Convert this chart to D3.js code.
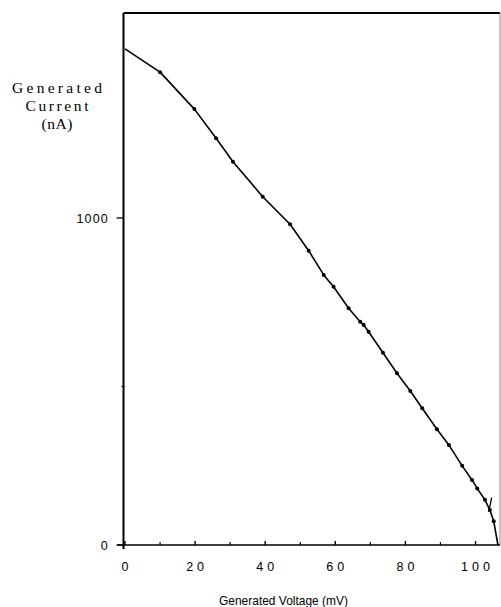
<!DOCTYPE html>
<html>
<head>
<meta charset="utf-8">
<script src="https://cdn.jsdelivr.net/npm/d3@7"></script>
<style>
  body { margin: 0; background: #fff; }
  svg { display: block; }
</style>
</head>
<body>
<div id="chart"></div>
<script>
// measured points: generated voltage (mV) vs generated current (nA)
var voltage = [0, 10, 19.8, 26, 30.8, 39.3, 47.1, 52.4, 56.7, 59.5, 63.8, 67.1, 68.1, 69.5,
               73.6, 77.6, 81.4, 84.8, 89, 92.4, 96.2, 99, 100.5, 102.7, 104.1, 105.2, 106.4];
var current = [1517, 1446, 1333, 1244, 1172, 1065, 981, 900, 826, 790, 724, 683, 673, 652,
               588, 525, 471, 418, 354, 306, 242, 199, 173, 138, 107, 73, 0];
var xTicks = [0, 20, 40, 60, 80, 100];
var xMinor = [10, 30, 50, 70, 90];
var yTicks = [0, 1000];
var yMinor = [500];
var yTitle = ["Generated", "Current", "(nA)"];

var data = voltage.map(function(v, i) { return {v: v, c: current[i]}; });

var width = 501, height = 607;
var frame = {left: 123.5, right: 500, top: 13, bottom: 545};
var sans = "Liberation Sans, Arial, sans-serif";
var serif = "Liberation Serif, Times New Roman, serif";

var svg = d3.select("#chart").append("svg")
    .attr("width", width)
    .attr("height", height);

var x = d3.scaleLinear()
    .domain([0, 100])
    .range([125, 475.5]);

var y = d3.scaleLinear()
    .domain([0, 1000])
    .range([545, 218]);

// box round the plot
svg.append("line")
    .attr("x1", frame.left).attr("x2", frame.right)
    .attr("y1", frame.top).attr("y2", frame.top)
    .attr("stroke", "#000").attr("stroke-width", 2);
svg.append("line")
    .attr("x1", frame.right).attr("x2", frame.right)
    .attr("y1", frame.top).attr("y2", frame.bottom)
    .attr("stroke", "#888").attr("stroke-width", 1);
svg.append("line")
    .attr("x1", frame.left).attr("x2", frame.left)
    .attr("y1", frame.top).attr("y2", frame.bottom + 4)
    .attr("stroke", "#000").attr("stroke-width", 2);
svg.append("line")
    .attr("x1", frame.left - 6).attr("x2", frame.right)
    .attr("y1", frame.bottom).attr("y2", frame.bottom)
    .attr("stroke", "#000").attr("stroke-width", 1.6);

// x axis ticks point up into the plot
svg.append("g").selectAll("line.major")
    .data(xTicks)
    .enter().append("line")
        .attr("x1", function(d) { return x(d); })
        .attr("x2", function(d) { return x(d); })
        .attr("y1", frame.bottom)
        .attr("y2", frame.bottom - 4)
        .attr("stroke", "#000").attr("stroke-width", 1.4);
svg.append("g").selectAll("line.minor")
    .data(xMinor)
    .enter().append("line")
        .attr("x1", function(d) { return x(d); })
        .attr("x2", function(d) { return x(d); })
        .attr("y1", frame.bottom)
        .attr("y2", frame.bottom - 3)
        .attr("stroke", "#000").attr("stroke-width", 1.2);

svg.append("g").selectAll("text")
    .data(xTicks)
    .enter().append("text")
        .attr("x", function(d) { return x(d) + 2; })
        .attr("y", 571)
        .attr("text-anchor", "middle")
        .attr("font-family", sans)
        .attr("font-size", 12.5)
        .attr("letter-spacing", "4px")
        .text(function(d) { return d; });

// y axis ticks point outward
svg.append("g").selectAll("line")
    .data(yTicks)
    .enter().append("line")
        .attr("x1", frame.left - 7)
        .attr("x2", frame.left)
        .attr("y1", function(d) { return y(d); })
        .attr("y2", function(d) { return y(d); })
        .attr("stroke", "#000").attr("stroke-width", 1.3);
svg.append("g").selectAll("line")
    .data(yMinor)
    .enter().append("line")
        .attr("x1", frame.left - 2)
        .attr("x2", frame.left + 1)
        .attr("y1", function(d) { return y(d) + 5; })
        .attr("y2", function(d) { return y(d) + 5; })
        .attr("stroke", "#000").attr("stroke-width", 1.2);

svg.append("g").selectAll("text")
    .data(yTicks)
    .enter().append("text")
        .attr("x", 109)
        .attr("y", function(d) { return y(d) + 4.5; })
        .attr("text-anchor", "end")
        .attr("font-family", sans)
        .attr("font-size", 12.5)
        .attr("letter-spacing", "1.2px")
        .text(function(d) { return d; });

// axis titles
svg.append("text")
    .attr("x", 219)
    .attr("y", 605)
    .attr("font-family", sans)
    .attr("font-size", 13.5)
    .attr("textLength", 129)
    .attr("lengthAdjust", "spacingAndGlyphs")
    .text("Generated Voltage (mV)");

var titleLength = [90, 63, 31];
svg.append("g").selectAll("text")
    .data(yTitle)
    .enter().append("text")
        .attr("x", function(d, i) { return 57 - titleLength[i] / 2; })
        .attr("y", function(d, i) { return 93 + i * 18; })
        .attr("font-family", serif)
        .attr("font-size", 15.5)
        .attr("textLength", function(d, i) { return titleLength[i]; })
        .attr("lengthAdjust", "spacing")
        .text(function(d) { return d; });

// the curve and its points
var line = d3.line()
    .x(function(d) { return x(d.v); })
    .y(function(d) { return y(d.c); });

svg.append("path")
    .datum(data)
    .attr("fill", "none")
    .attr("stroke", "#000")
    .attr("stroke-width", 1.6)
    .attr("stroke-linejoin", "round")
    .attr("d", line);

svg.append("g").selectAll("circle")
    .data(data.slice(1, -1))
    .enter().append("circle")
        .attr("cx", function(d) { return x(d.v); })
        .attr("cy", function(d) { return y(d.c); })
        .attr("r", 2)
        .attr("fill", "#000");

// small pen stroke near the end of the curve
svg.append("line")
    .attr("x1", x(104.6)).attr("y1", y(145))
    .attr("x2", x(103.8)).attr("y2", y(101))
    .attr("stroke", "#000").attr("stroke-width", 1.3);
</script>
</body>
</html>
